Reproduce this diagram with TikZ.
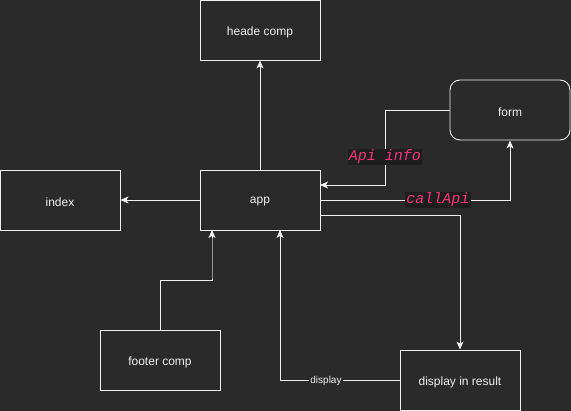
\documentclass[tikz,border=0pt]{standalone}
\usepackage{fontspec}
\setmainfont{Liberation Sans}
\newfontfamily\codefont{Liberation Mono}
\usetikzlibrary{arrows.meta}
\definecolor{bg}{HTML}{2A2A2A}
\definecolor{fg}{HTML}{F0F0F0}
\definecolor{codepink}{HTML}{F5357A}
\definecolor{codebg}{HTML}{1E1E1E}
\newcommand{\lowtxt}[1]{\raisebox{-2pt}[\height][\depth]{#1}}
\tikzset{
  box/.style={draw=fg, line width=0.9pt, fill=bg, minimum width=120pt, minimum height=60pt, inner sep=0pt, text=fg, font=\fontsize{12}{14}\selectfont},
  conn/.style={draw=fg, line width=0.9pt, -{Stealth[length=8pt,width=7pt,inset=2pt]}},
  codelbl/.style={fill=codebg, text=codepink, inner sep=1pt, font=\codefont\itshape\fontsize{15}{17}\selectfont},
  smalllbl/.style={fill=bg, text=fg, inner sep=1pt, font=\fontsize{10}{11}\selectfont}
}
\begin{document}
\begin{tikzpicture}[x=1pt,y=-1pt]
\fill[bg] (0,0) rectangle (571,411);
\useasboundingbox (0,0) rectangle (571,411);
\node[box] (head) at (260,30) {\lowtxt{heade comp}};
\node[box] (app) at (260,200) {\lowtxt{app}};
\node[box] (index) at (60,200) {\lowtxt{index}};
\node[box, rounded corners=10pt] (form) at (510,110) {\lowtxt{form}};
\node[box] (footer) at (160,360) {\lowtxt{footer comp}};
\node[box] (disp) at (460,380) {\lowtxt{display in result}};
\coordinate (appR1) at (320,185);
\coordinate (appR2) at (320,200);
\coordinate (appR3) at (320,215);
\coordinate (appB1) at (212,230);
\coordinate (appB2) at (280,230);
\draw[conn] (app.north) -- (head.south);
\draw[conn] (app.west) -- (index.east);
\draw[conn] (form.west) -- (385,110) -- (385,185) -- (appR1);
\draw[conn] (appR2) -- (510,200) -- (form.south);
\draw[conn] (appR3) -- (460,215) -- (disp.north);
\draw[conn] (footer.north) -- (160,280) -- (212,280) -- (appB1);
\draw[draw=gray!80!fg, line width=0.9pt] (212,279.5) -- (212,238);
\draw[conn] (disp.west) -- (280,380) -- (appB2);
\node[codelbl] (apiinfo) at (385,157) {Api info};
\node[codelbl] (callapi) at (438,200) {callApi};
\node[smalllbl] (displbl) at (326,381) {display};
\end{tikzpicture}
\end{document}
